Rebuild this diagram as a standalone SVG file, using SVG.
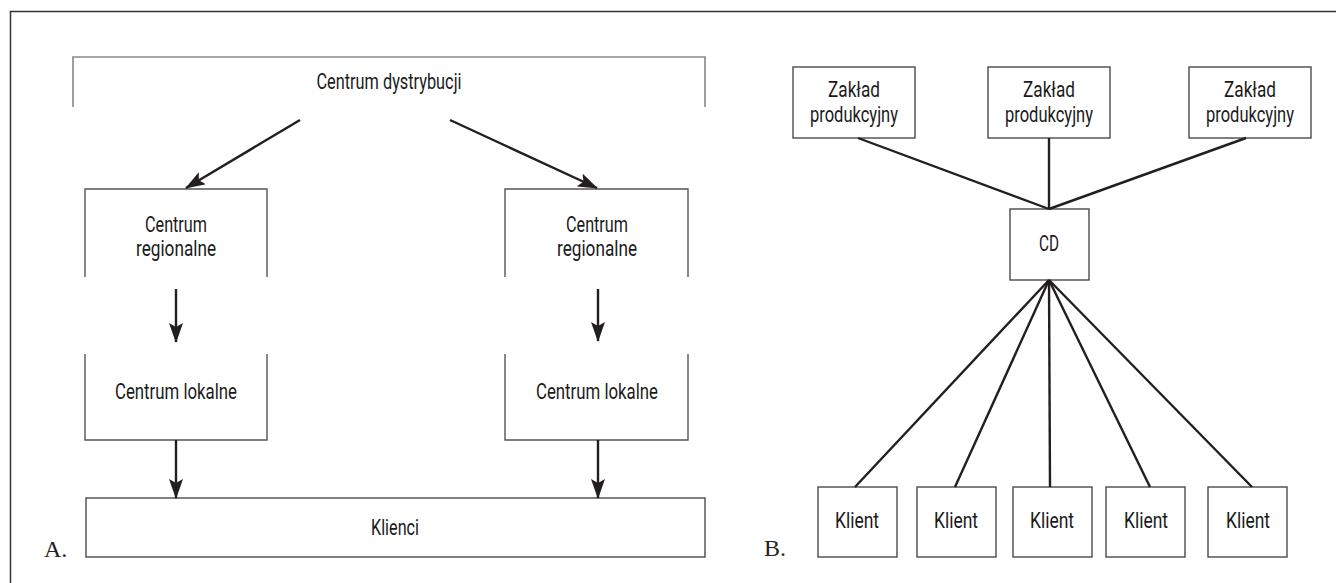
<svg xmlns="http://www.w3.org/2000/svg" width="1336" height="583" viewBox="0 0 1336 583">
<defs>
<style>
.box{fill:#fff;stroke:#4a4a4a;stroke-width:1.4}
.open{fill:none;stroke:#555;stroke-width:1.4}
.top{fill:none;stroke:#888;stroke-width:1.6}
.t{font-family:Roboto,"DejaVu Sans Condensed",sans-serif;font-size:22px;font-weight:400;fill:#1a1a1a;text-anchor:middle}
.lab{font-family:"Liberation Serif",serif;font-size:24px;fill:#222}
.arr{stroke:#231f20;stroke-width:2.4;fill:none;marker-end:url(#ah)}
.ln{stroke:#231f20;stroke-width:2.4;fill:none}
</style>
<marker id="ah" markerUnits="userSpaceOnUse" markerWidth="20" markerHeight="14" refX="19" refY="7" orient="auto">
<path d="M0,0 L20,7 L0,14 L4,7 z" fill="#231f20"/>
</marker>
</defs>
<path d="M10.5,583 V11.5 H1336" fill="none" stroke="#333" stroke-width="1.5"/>
<g id="labels">
<text class="lab" x="44" y="557">A.</text>
<text class="lab" x="764" y="556">B.</text>
</g>
<g id="centrum-dystrybucji">
<path class="top" d="M73,107 V57 H705 V107"/>
<text class="t" x="389" y="89" textLength="145" lengthAdjust="spacingAndGlyphs">Centrum dystrybucji</text>
</g>
<g id="regionalne-1">
<path class="open" d="M85,277 V189 H267 V277"/>
<text class="t" x="176" y="232" textLength="62" lengthAdjust="spacingAndGlyphs">Centrum</text>
<text class="t" x="176" y="256" textLength="80" lengthAdjust="spacingAndGlyphs">regionalne</text>
</g>
<g id="regionalne-2">
<path class="open" d="M505,277 V189 H688 V277"/>
<text class="t" x="597" y="232" textLength="62" lengthAdjust="spacingAndGlyphs">Centrum</text>
<text class="t" x="597" y="256" textLength="80" lengthAdjust="spacingAndGlyphs">regionalne</text>
</g>
<g id="lokalne-1">
<path class="open" d="M85,354 V440 H267 V354"/>
<text class="t" x="176" y="399" textLength="122" lengthAdjust="spacingAndGlyphs">Centrum lokalne</text>
</g>
<g id="lokalne-2">
<path class="open" d="M505,354 V440 H688 V354"/>
<text class="t" x="597" y="399" textLength="122" lengthAdjust="spacingAndGlyphs">Centrum lokalne</text>
</g>
<g id="klienci">
<rect class="box" x="86" y="498" width="619" height="59"/>
<text class="t" x="395" y="535" textLength="48" lengthAdjust="spacingAndGlyphs">Klienci</text>
</g>
<g id="zaklad-1">
<rect class="box" x="793" y="67" width="122" height="71"/>
<text class="t" x="854" y="97" textLength="52" lengthAdjust="spacingAndGlyphs">Zakład</text>
<text class="t" x="854" y="122" textLength="88" lengthAdjust="spacingAndGlyphs">produkcyjny</text>
</g>
<g id="zaklad-2">
<rect class="box" x="988" y="67" width="122" height="71"/>
<text class="t" x="1049" y="97" textLength="52" lengthAdjust="spacingAndGlyphs">Zakład</text>
<text class="t" x="1049" y="122" textLength="88" lengthAdjust="spacingAndGlyphs">produkcyjny</text>
</g>
<g id="zaklad-3">
<rect class="box" x="1189" y="67" width="122" height="71"/>
<text class="t" x="1250" y="97" textLength="52" lengthAdjust="spacingAndGlyphs">Zakład</text>
<text class="t" x="1250" y="122" textLength="88" lengthAdjust="spacingAndGlyphs">produkcyjny</text>
</g>
<g id="cd">
<rect class="box" x="1010" y="209" width="79" height="71"/>
<text class="t" x="1049" y="251" textLength="20" lengthAdjust="spacingAndGlyphs">CD</text>
</g>
<g id="klient-1"><rect class="box" x="818" y="487" width="79" height="70"/><text class="t" x="857" y="528" textLength="44" lengthAdjust="spacingAndGlyphs">Klient</text></g>
<g id="klient-2"><rect class="box" x="917" y="487" width="79" height="70"/><text class="t" x="956" y="528" textLength="44" lengthAdjust="spacingAndGlyphs">Klient</text></g>
<g id="klient-3"><rect class="box" x="1013" y="487" width="79" height="70"/><text class="t" x="1052" y="528" textLength="44" lengthAdjust="spacingAndGlyphs">Klient</text></g>
<g id="klient-4"><rect class="box" x="1106" y="487" width="79" height="70"/><text class="t" x="1146" y="528" textLength="44" lengthAdjust="spacingAndGlyphs">Klient</text></g>
<g id="klient-5"><rect class="box" x="1208" y="487" width="79" height="70"/><text class="t" x="1248" y="528" textLength="44" lengthAdjust="spacingAndGlyphs">Klient</text></g>
<g id="connectors">
<line class="arr" x1="300" y1="120" x2="186" y2="188"/>
<line class="arr" x1="450" y1="120" x2="597" y2="188"/>
<line class="arr" x1="176" y1="289" x2="176" y2="342"/>
<line class="arr" x1="598" y1="289" x2="598" y2="341"/>
<line class="arr" x1="176" y1="440" x2="176" y2="498"/>
<line class="arr" x1="598" y1="440" x2="598" y2="498"/>
<line class="ln" x1="858" y1="138" x2="1049" y2="209"/>
<line class="ln" x1="1049" y1="138" x2="1049" y2="209"/>
<line class="ln" x1="1246" y1="138" x2="1049" y2="209"/>
<line class="ln" x1="1049" y1="280" x2="855" y2="487"/>
<line class="ln" x1="1049" y1="280" x2="955" y2="487"/>
<line class="ln" x1="1049" y1="280" x2="1050" y2="487"/>
<line class="ln" x1="1049" y1="280" x2="1150" y2="487"/>
<line class="ln" x1="1049" y1="280" x2="1252" y2="487"/>
</g>
</svg>
